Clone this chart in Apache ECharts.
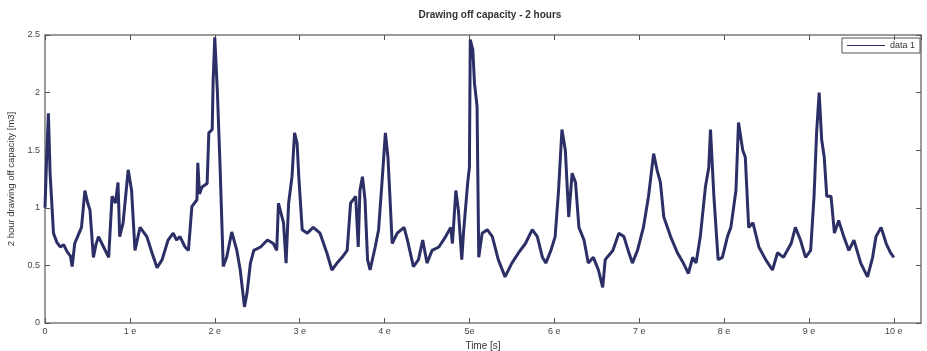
<!DOCTYPE html>
<html>
<head>
<meta charset="utf-8">
<script src="https://cdn.jsdelivr.net/npm/echarts@6/dist/echarts.min.js"></script>
<style>html,body{margin:0;padding:0;background:#fff;}#c{width:927px;height:351px;}</style>
</head>
<body>
<div id="c"></div>
<script>
var xTickLabels = ['0','1 e','2 e','3 e','4 e','5e','6 e','7 e','8 e','9 e','10 e'];
var yTickLabels = ['0','0.5','1','1.5','2','2.5'];
var timeVals = [0.00,0.02,0.04,0.06,0.10,0.14,0.18,0.22,0.26,0.30,0.32,0.35,0.39,0.43,0.47,0.50,0.53,0.57,0.60,0.63,0.69,0.75,0.79,0.83,0.86,0.88,0.92,0.98,1.02,1.06,1.12,1.20,1.26,1.32,1.38,1.45,1.51,1.55,1.59,1.65,1.69,1.73,1.79,1.80,1.82,1.85,1.91,1.93,1.97,1.98,2.00,2.03,2.06,2.10,2.14,2.20,2.26,2.30,2.35,2.38,2.42,2.46,2.54,2.62,2.69,2.73,2.75,2.81,2.84,2.87,2.91,2.94,2.97,2.99,3.03,3.09,3.16,3.24,3.32,3.38,3.44,3.50,3.56,3.60,3.66,3.69,3.71,3.74,3.77,3.80,3.83,3.89,3.93,3.97,4.01,4.04,4.06,4.09,4.15,4.23,4.27,4.34,4.40,4.45,4.50,4.56,4.64,4.72,4.78,4.80,4.84,4.87,4.91,4.93,4.98,5.00,5.01,5.04,5.06,5.09,5.11,5.15,5.21,5.27,5.34,5.42,5.50,5.58,5.66,5.74,5.80,5.86,5.90,5.96,6.01,6.05,6.09,6.13,6.17,6.21,6.25,6.29,6.35,6.40,6.46,6.52,6.57,6.60,6.69,6.76,6.82,6.87,6.92,6.98,7.05,7.11,7.17,7.21,7.25,7.29,7.37,7.45,7.52,7.58,7.63,7.67,7.72,7.78,7.82,7.84,7.88,7.93,7.98,8.04,8.08,8.14,8.17,8.22,8.25,8.29,8.34,8.41,8.49,8.57,8.63,8.70,8.79,8.84,8.90,8.96,9.02,9.06,9.09,9.12,9.15,9.18,9.21,9.26,9.30,9.35,9.41,9.47,9.53,9.61,9.69,9.75,9.79,9.85,9.91,9.96,10.00];
var capVals = [1.00,1.45,1.82,1.30,0.78,0.70,0.66,0.68,0.62,0.58,0.49,0.69,0.76,0.83,1.15,1.05,0.98,0.57,0.68,0.75,0.66,0.57,1.10,1.04,1.22,0.75,0.87,1.33,1.15,0.63,0.83,0.75,0.61,0.48,0.55,0.72,0.78,0.72,0.75,0.66,0.63,1.01,1.07,1.39,1.12,1.18,1.21,1.65,1.68,2.08,2.48,2.02,1.41,0.49,0.57,0.79,0.63,0.46,0.14,0.26,0.52,0.63,0.66,0.72,0.69,0.63,1.04,0.87,0.52,1.04,1.27,1.65,1.56,1.27,0.81,0.78,0.83,0.78,0.61,0.46,0.52,0.57,0.63,1.04,1.10,0.66,1.15,1.27,1.07,0.55,0.46,0.66,0.81,1.22,1.65,1.44,1.15,0.69,0.78,0.83,0.72,0.49,0.55,0.72,0.52,0.63,0.66,0.75,0.83,0.69,1.15,0.98,0.55,0.78,1.22,1.35,2.46,2.37,2.08,1.88,0.57,0.78,0.81,0.75,0.55,0.40,0.52,0.61,0.69,0.81,0.75,0.57,0.52,0.63,0.75,1.15,1.68,1.50,0.92,1.30,1.22,0.83,0.72,0.52,0.57,0.46,0.31,0.55,0.63,0.78,0.75,0.63,0.52,0.63,0.83,1.10,1.47,1.33,1.22,0.92,0.75,0.61,0.52,0.43,0.57,0.52,0.75,1.18,1.35,1.68,1.10,0.55,0.57,0.75,0.83,1.15,1.74,1.50,1.44,0.83,0.87,0.66,0.55,0.46,0.61,0.57,0.69,0.83,0.72,0.57,0.63,1.10,1.65,2.00,1.59,1.44,1.10,1.10,0.78,0.89,0.75,0.63,0.72,0.52,0.40,0.57,0.75,0.83,0.69,0.61,0.57];

var seriesData = timeVals.map(function(t, i){ return [t, capVals[i]]; });
var font = 'Liberation Sans';
var axisCol = '#7a7a7a';
var chart = echarts.init(document.getElementById('c'), null, {renderer:'canvas'});
function baseX(pos, showLabel){
  return {
    type:'value', position:pos, min:0, max:10.32, interval:1,
    axisLine:{show:true, onZero:false, lineStyle:{color:axisCol, width:1.5}},
    axisTick:{show:true, inside:true, length:5, lineStyle:{color:'#555'}},
    splitLine:{show:false},
    axisLabel:{show:showLabel, color:'#444', fontSize:9, fontFamily:font, margin:4, showMaxLabel:false,
      formatter:function(v){ var i=Math.round(v); if (Math.abs(v-i)>1e-6) return ''; return xTickLabels[i]!==undefined?xTickLabels[i]:''; }},
    name: showLabel ? 'Time [s]' : '', nameLocation:'middle', nameGap:16,
    nameTextStyle:{color:'#333', fontSize:10, fontFamily:font}
  };
}
function baseY(pos, showLabel){
  return {
    type:'value', position:pos, min:0, max:2.5, interval:0.5,
    axisLine:{show:true, onZero:false, lineStyle:{color:axisCol, width:1.5}},
    axisTick:{show:true, inside:true, length:5, lineStyle:{color:'#555'}},
    splitLine:{show:false},
    axisLabel:{show:showLabel, color:'#444', fontSize:9, fontFamily:font, margin:5,
      formatter:function(v){ var i=Math.round(v*2); return yTickLabels[i]!==undefined?yTickLabels[i]:''; }},
    name: showLabel ? '2 hour drawing off capacity [m3]' : '', nameLocation:'middle', nameGap:28,
    nameTextStyle:{color:'#333', fontSize:9.5, fontFamily:font}
  };
}
chart.setOption({
  animation:false,
  backgroundColor:'#fff',
  title:{text:'Drawing off capacity - 2 hours', left:485, textAlign:'center', top:5,
    textStyle:{fontSize:10, fontWeight:'bold', color:'#333', fontFamily:font}},
  legend:{right:7, top:38, orient:'vertical', borderColor:'#555', borderWidth:1, padding:[3,5],
    itemWidth:38, itemHeight:8, textStyle:{fontSize:9, color:'#333', fontFamily:font},
    data:[{name:'data 1', icon:'path://M0,4L38,4L38,5L0,5Z'}]},
  grid:{left:45, top:35, right:6, bottom:28, show:false, containLabel:false, outerBoundsMode:'none'},
  xAxis:[baseX('bottom', true), baseX('top', false)],
  yAxis:[baseY('left', true), baseY('right', false)],
  series:[{
    name:'data 1', type:'line', data:seriesData, xAxisIndex:0, yAxisIndex:0,
    showSymbol:false, symbol:'none', smooth:false,
    lineStyle:{color:'#2c2f66', width:3},
    itemStyle:{color:'#2c2f66'}
  }]
});
</script>
</body>
</html>
